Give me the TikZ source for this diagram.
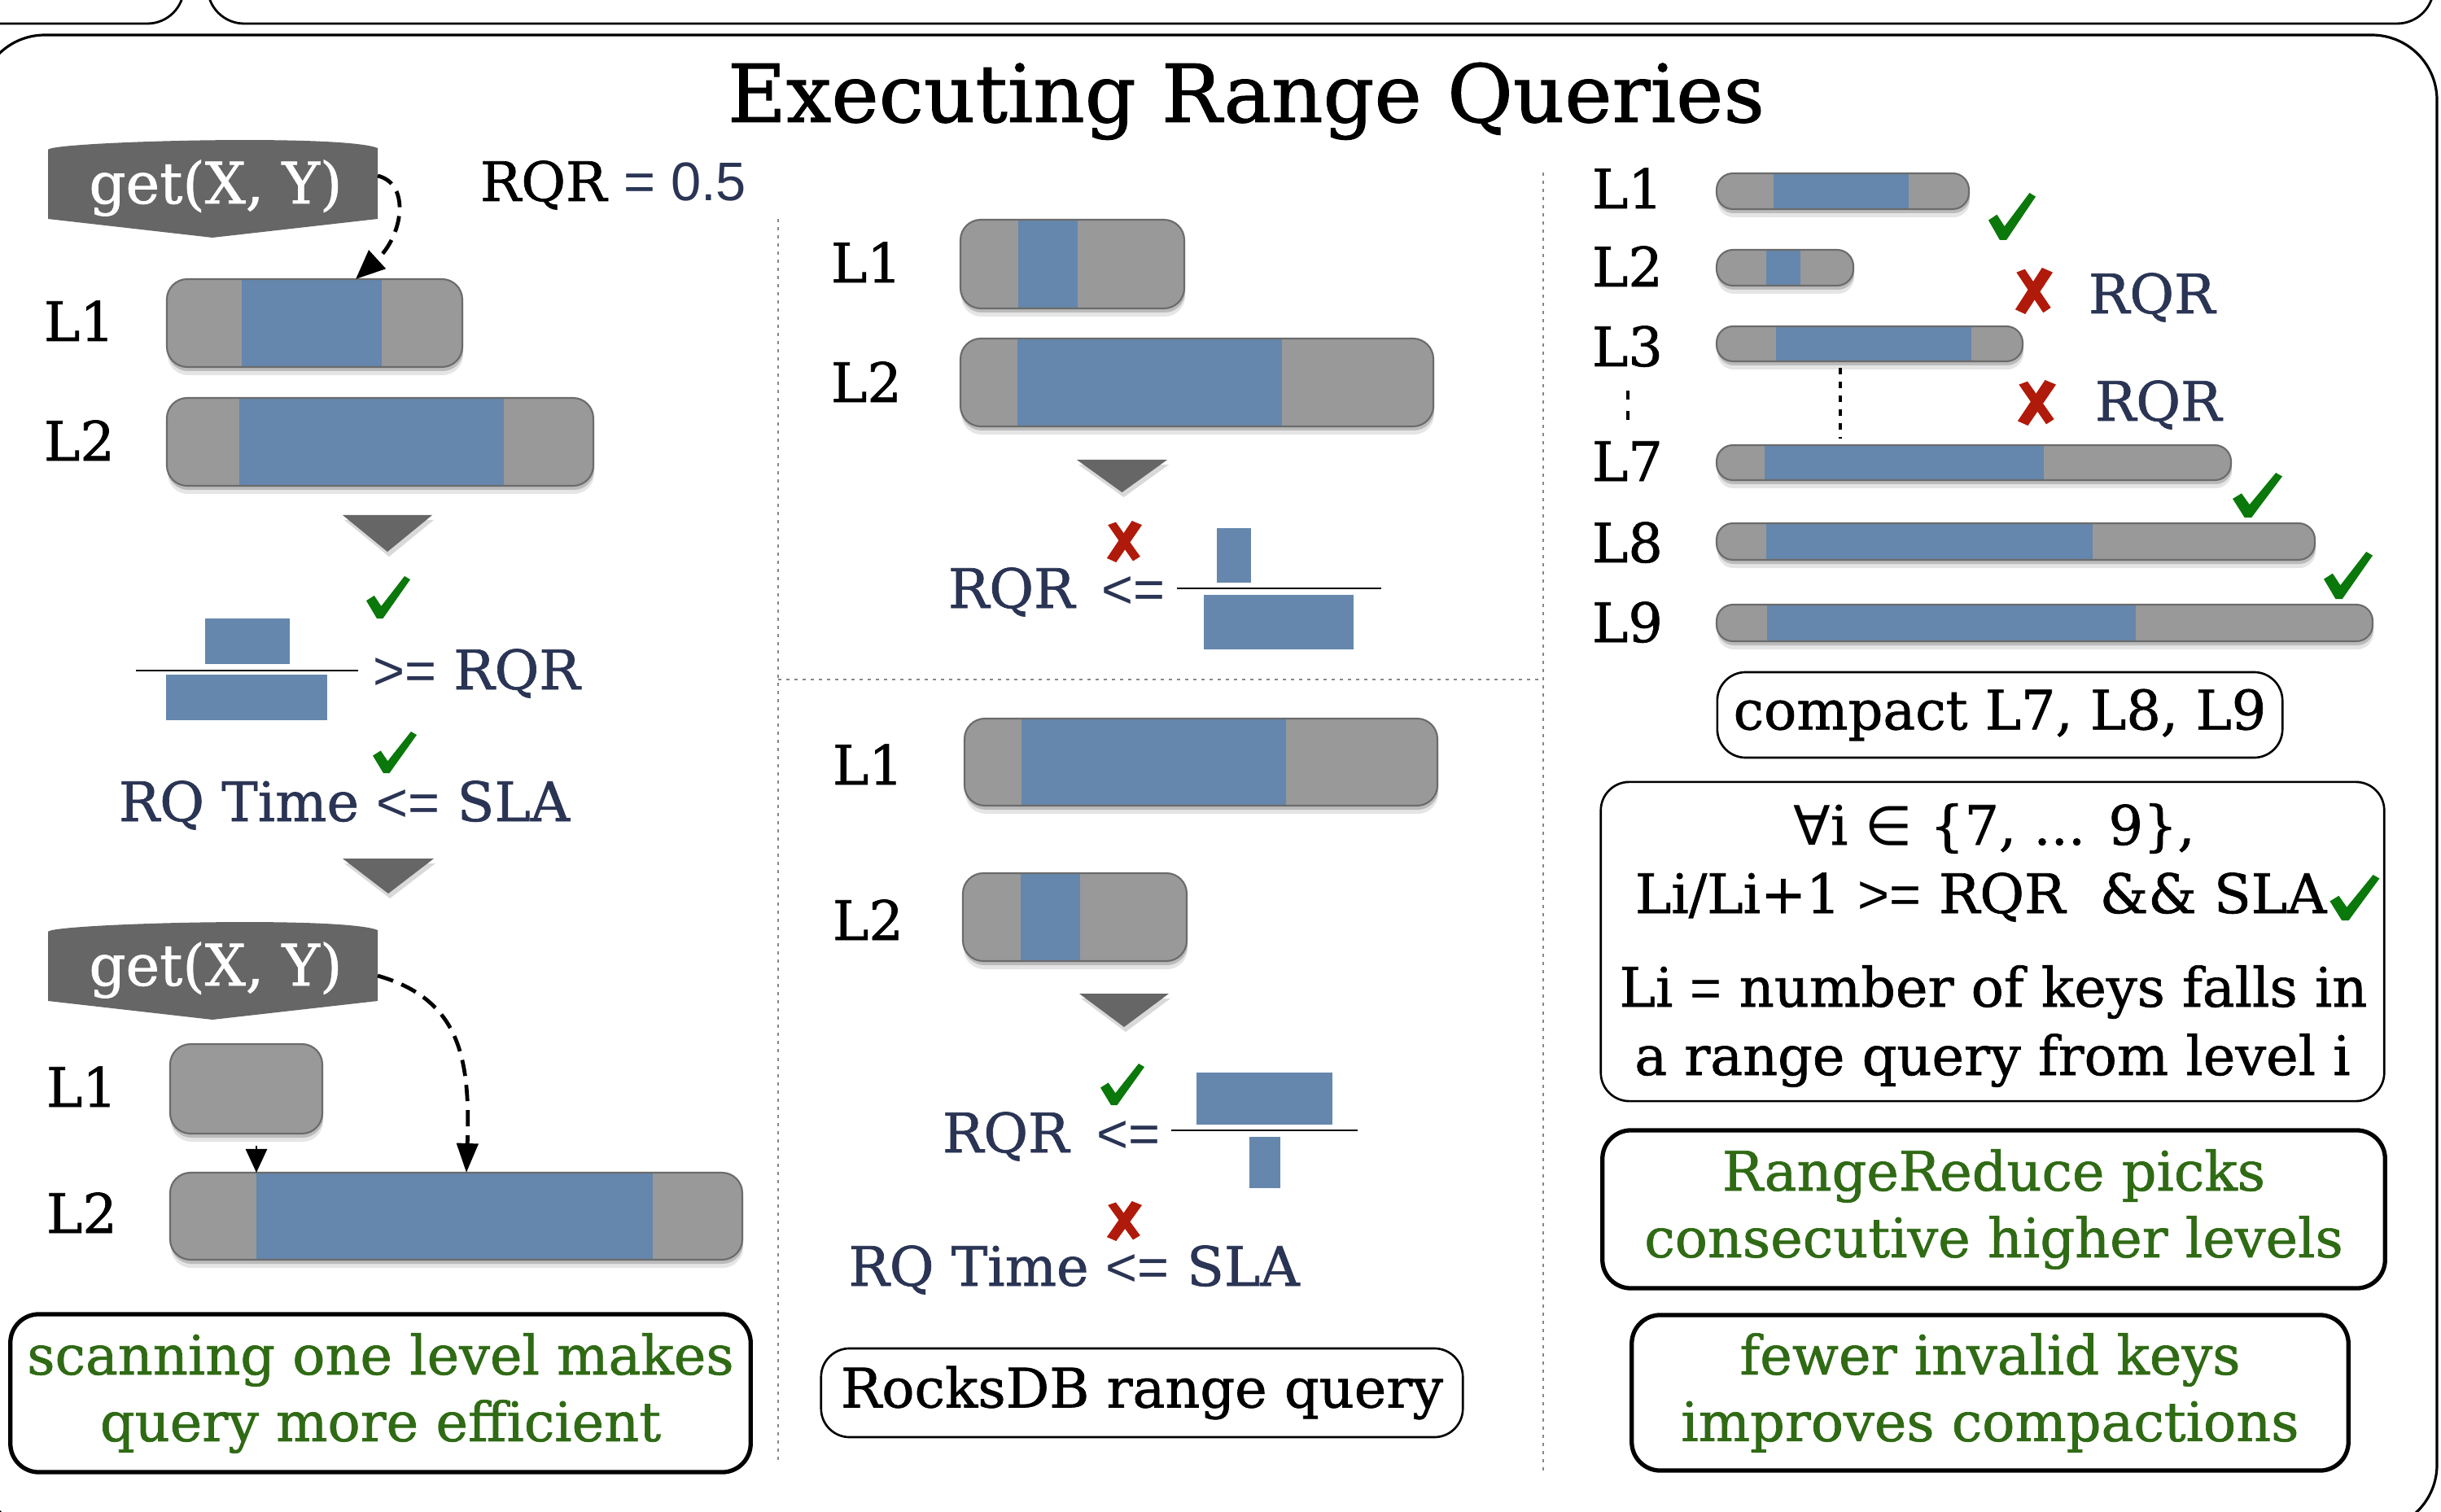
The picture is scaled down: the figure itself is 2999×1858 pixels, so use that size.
\documentclass[tikz,border=0pt]{standalone}
\usepackage{fontspec}
\setmainfont[FakeBold=1]{DejaVu Serif}
\newfontfamily\sansf{Liberation Sans}
\newfontfamily\symf{DejaVu Sans}
\usetikzlibrary{arrows.meta}
\definecolor{bargray}{HTML}{999999}
\definecolor{barline}{HTML}{6B6B6B}
\definecolor{barblue}{HTML}{6587AD}
\definecolor{darkg}{HTML}{666666}
\definecolor{navy}{HTML}{2A3454}
\definecolor{tgreen}{HTML}{2F6A14}
\definecolor{cgreen}{HTML}{0A780A}
\definecolor{cred}{HTML}{B01A0A}
\definecolor{sepgray}{HTML}{888888}

% level bar: name x1 y1 x2 y2 bx1 bx2 radius
\newcommand\lvlbar[8]{%
 \fill[black,opacity=.10,rounded corners=#8] (#2+1,#3+10) rectangle (#4+1,#5+10);
 \fill[black,opacity=.18,rounded corners=#8] (#2+1,#3+5) rectangle (#4+1,#5+5);
 \fill[bargray,rounded corners=#8] (#2,#3) rectangle (#4,#5);
 \begin{scope}
  \clip[rounded corners=#8] (#2,#3) rectangle (#4,#5);
  \fill[barblue] (#6,#3) rectangle (#7,#5);
 \end{scope}
 \draw[barline,line width=0.6pt,rounded corners=#8] (#2,#3) rectangle (#4,#5);
 \coordinate (#1) at ({(#2+#4)/2},#3);
}
% down triangle: x1 x2 ytop ytip
\newcommand\dtri[4]{%
 \fill[black,opacity=.15] (#1+2,#3+6) -- (#2+2,#3+6) -- ({(#1+#2)/2+2},#4+6) -- cycle;
 \fill[darkg] (#1,#3) -- (#2,#3) -- ({(#1+#2)/2},#4) -- cycle;
}
% get banner: name ytop
\newcommand\banner[2]{%
 \fill[darkg] (59,#2+14) .. controls (62,#2+4) and (420,#2-6) .. (464,#2+12) -- (464,#2+99) -- (261,#2+122) -- (59,#2+99) -- cycle;
 \node[gettxt] (#1) at (265,#2+80) {get(X, Y)};
}
\newcommand\cmark[3]{\begin{scope}[shift={#1},xscale=#2,yscale=#3]
 \fill[cgreen] (0,0.58) -- (0.18,0.46) -- (0.34,0.71) -- (0.87,0) -- (1,0.08) -- (0.38,1) -- (0.24,1) -- cycle;
\end{scope}}
\newcommand\xmark[3]{\begin{scope}[shift={#1},xscale=#2,yscale=#3]
 \fill[cred] (0.72,0) -- (1,0.1) -- (0.28,1) -- (0.02,0.9) -- cycle;
 \fill[cred] (0.05,0.1) -- (0.27,0.03) -- (0.95,0.86) -- (0.75,0.97) -- cycle;
\end{scope}}

\begin{document}
\begin{tikzpicture}[x=0.01cm,y=-0.01cm,
 txt/.style={inner sep=0pt, outer sep=0pt, font=\fontsize{19}{23.3}\selectfont},
 lab/.style={txt, anchor=base west},
 ctr/.style={txt, anchor=base},
 nv/.style={text=navy},
 gettxt/.style={inner sep=0pt, anchor=base, text=white, font=\fontsize{20}{24}\selectfont},
 thinbox/.style={draw, line width=0.75pt, rounded corners=0.35cm, inner sep=0pt, align=center, font=\fontsize{19}{23.3}\selectfont},
 thickbox/.style={thinbox, line width=1.5pt, text=tgreen},
 sep/.style={sepgray, line width=0.7pt, dash pattern=on 0.04cm off 0.06cm},
 dasharrow/.style={line width=1.35pt, dash pattern=on 0.2cm off 0.11cm, -{Triangle[length=0.36cm,width=0.3cm]}},
]
\useasboundingbox (0,0) rectangle (2999,1858);
\fill[white] (0,0) rectangle (2999,1858);

% frames
\draw[line width=0.8pt, rounded corners=0.45cm] (-20,29) -- (226,29) -- (226,-40);
\draw[line width=0.8pt, rounded corners=0.45cm] (255,-40) -- (255,29) -- (2990,29) -- (2990,-40);
\draw[line width=0.9pt, rounded corners=0.8cm] (-25,43) rectangle (2994,1880);

\node[anchor=base, inner sep=0pt, font=\fontsize{28}{30}\selectfont] (title) at (1531,150) {Executing Range Queries};

% separators
\draw[sep] (956,269) -- (956,1798);
\draw[sep] (1896,212) -- (1896,1808);
\draw[sep] (956,835) -- (1896,835);

% ---------- left column
\banner{get1}{170}
\node[lab] (rqr0) at (590,247) {RQR {\sansf\color{navy}= 0.5}};
\lvlbar{a1}{205}{343}{568}{451}{297}{469}{0.25cm}
\node[lab] (la1) at (54,419) {L1};
\lvlbar{a2}{205}{489}{729}{597}{294}{619}{0.25cm}
\node[lab] (la2) at (54,566) {L2};
\coordinate (g1out) at (464,216);
\coordinate (a1in) at (437,343);
\draw[dasharrow] (g1out) .. controls (505,226) and (495,290) .. (a1in);
\dtri{421}{531}{633}{678}
\cmark{(450,708)}{54}{52}
\fill[barblue] (252,760) rectangle (356,816);
\draw[line width=0.8pt] (167,824) -- (440,824);
\fill[barblue] (204,829) rectangle (402,885);
\node[lab,nv] (geq) at (458,847) {{\sansf >=} RQR};
\cmark{(458,899)}{54}{51}
\node[ctr,nv] (rqt1) at (423,1009) {RQ Time {\sansf <=} SLA};
\dtri{421}{533}{1055}{1098}
\banner{get2}{1131}
\lvlbar{b1}{209}{1283}{396}{1393}{0}{0}{0.25cm}
\node[lab] (lb1) at (57,1360) {L1};
\lvlbar{b2}{209}{1441}{912}{1548}{315}{802}{0.25cm}
\node[lab] (lb2) at (57,1515) {L2};
\coordinate (g2out) at (464,1199);
\coordinate (b2in) at (573,1441);
\draw[dasharrow, -{Triangle[length=0.36cm,width=0.26cm]}] (g2out) .. controls (565,1228) and (578,1300) .. (b2in);
\coordinate (b1out) at (315,1408);
\coordinate (b2l) at (315,1441);
\draw[line width=0.8pt, -{Triangle[length=0.29cm,width=0.26cm]}] (b1out) -- (b2l);
\node[thickbox, minimum width=9.09cm, minimum height=1.94cm] (scan) at (467.5,1712) {scanning one level makes\\query more efficient};

% ---------- middle top
\lvlbar{c1}{1180}{270}{1455}{379}{1251}{1324}{0.25cm}
\node[lab] (lc1) at (1021,347) {L1};
\lvlbar{c2}{1180}{416}{1761}{524}{1250}{1575}{0.25cm}
\node[lab] (lc2) at (1021,494) {L2};
\dtri{1323}{1434}{565}{605}
\xmark{(1359,640)}{44}{51}
\node[lab,nv] (rqc) at (1165,747) {RQR};
\node[lab,nv] (leqc) at (1353,747) {\sansf <=};
\fill[barblue] (1495,649) rectangle (1537,716);
\draw[line width=0.8pt] (1446,723) -- (1697,723);
\fill[barblue] (1479,731) rectangle (1663,798);

% ---------- middle bottom
\lvlbar{d1}{1185}{883}{1766}{990}{1255}{1580}{0.25cm}
\node[lab] (ld1) at (1023,964) {L1};
\lvlbar{d2}{1183}{1073}{1458}{1181}{1254}{1327}{0.25cm}
\node[lab] (ld2) at (1023,1155) {L2};
\dtri{1326}{1436}{1221}{1262}
\cmark{(1352,1307)}{54}{51}
\node[lab,nv] (rqd) at (1158,1416) {RQR};
\node[lab,nv] (leqd) at (1347,1416) {\sansf <=};
\fill[barblue] (1470,1318) rectangle (1637,1382);
\draw[line width=0.8pt] (1439,1389) -- (1668,1389);
\fill[barblue] (1535,1397) rectangle (1573,1460);
\xmark{(1359,1476)}{44}{49}
\node[ctr,nv] (rqt2) at (1319.5,1580) {RQ Time {\sansf <=} SLA};
\node[thinbox, minimum width=7.88cm, minimum height=1.09cm] (rocks) at (1403,1711.5) {RocksDB range query};

% ---------- right column
\lvlbar{e1}{2109}{213}{2419}{257}{2179}{2345}{0.2cm}
\lvlbar{e2}{2109}{307}{2277}{351}{2170}{2212}{0.2cm}
\lvlbar{e3}{2109}{401}{2485}{444}{2182}{2422}{0.2cm}
\lvlbar{e7}{2109}{547}{2741}{590}{2168}{2511}{0.2cm}
\lvlbar{e8}{2109}{643}{2844}{688}{2170}{2571}{0.2cm}
\lvlbar{e9}{2109}{743}{2915}{788}{2171}{2624}{0.2cm}
\node[lab] (le1) at (1956,256) {L1};
\node[lab] (le2) at (1956,352) {L2};
\node[lab] (le3) at (1956,450) {L3};
\node[lab] (le7) at (1956,591) {L7};
\node[lab] (le8) at (1956,691) {L8};
\node[lab] (le9) at (1956,789) {L9};
\draw[line width=1.2pt] (2000,480) -- (2000,491) (2000,505) -- (2000,516);
\coordinate (e3b) at (2261,452);
\coordinate (e7t) at (2261,539);
\draw[line width=1pt, dash pattern=on 0.08cm off 0.09cm] (e3b) -- (e7t);
\cmark{(2443,237)}{58}{58}
\cmark{(2743,581)}{61}{55}
\cmark{(2855,678)}{60}{58}
\xmark{(2475,329)}{47}{57}
\xmark{(2478,467)}{48}{56}
\node[lab,nv] (rqe1) at (2566,385) {RQR};
\node[lab,nv] (rqe2) at (2574,517) {RQR};
\node[thinbox, minimum width=6.94cm, minimum height=1.05cm] (compact) at (2457,878.5) {compact L7, L8, L9};
\node[thinbox, minimum width=9.62cm, minimum height=3.92cm] (forall) at (2448,1157) {};
\node[ctr] (f1) at (2450,1038) {{\symf ∀}i {\symf ∈} \{7, ... 9\},};
\node[lab] (f2) at (2009,1122) {Li/Li+1 {\sansf >=} RQR\ \ \&\& SLA};
\begin{scope}[shift={(f2.base east)}]
\cmark{(4,-47)}{61}{56}
\end{scope}
\node[ctr] (f3) at (2449,1237) {Li {\sansf =} number of keys falls in};
\node[ctr] (f4) at (2448,1321) {a range query from level i};
\node[thickbox, minimum width=9.61cm, minimum height=1.94cm] (rr) at (2449.5,1486) {RangeReduce picks\\consecutive higher levels};
\node[thickbox, minimum width=8.80cm, minimum height=1.91cm] (fewer) at (2445,1711.5) {fewer invalid keys\\improves compactions};
\end{tikzpicture}
\end{document}
